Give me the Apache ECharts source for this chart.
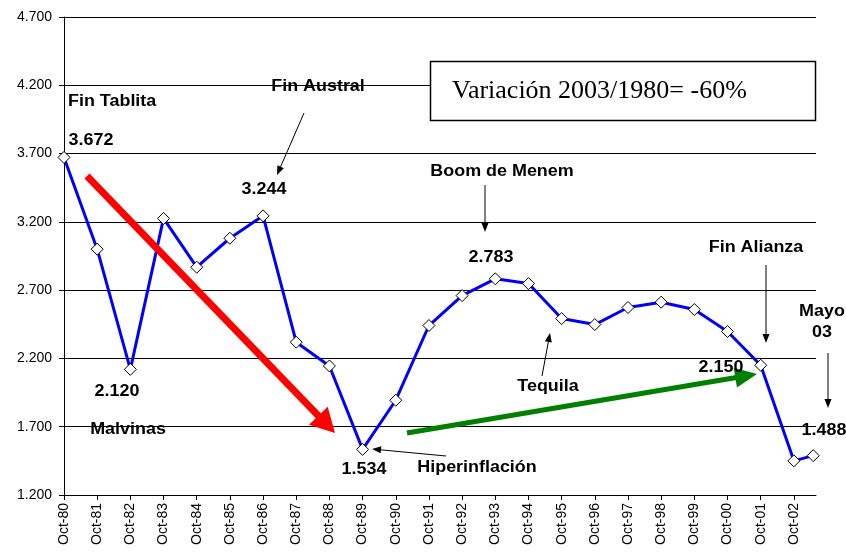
<!DOCTYPE html>
<html>
<head>
<meta charset="utf-8">
<script src="https://cdn.jsdelivr.net/npm/echarts@6/dist/echarts.min.js"></script>
<style>
  html, body { margin: 0; padding: 0; background: #fff; }
  #chart { width: 846px; height: 552px; }
</style>
</head>
<body>
<div id="chart"></div>
<script>
// periodos (año-mes) y valores
const periods = ['1980-10', '1981-10', '1982-10', '1983-10', '1984-10', '1985-10', '1986-10', '1987-10',
  '1988-10', '1989-10', '1990-10', '1991-10', '1992-10', '1993-10', '1994-10', '1995-10', '1996-10',
  '1997-10', '1998-10', '1999-10', '2000-10', '2001-10', '2002-10', '2003-05'];
const values = [3672, 3000, 2120, 3225, 2868, 3080, 3244, 2319, 2145, 1534, 1894, 2441, 2660, 2783,
  2748, 2492, 2448, 2573, 2612, 2558, 2397, 2150, 1450, 1488];
const tickLabels = ['Oct-80', 'Oct-81', 'Oct-82', 'Oct-83', 'Oct-84', 'Oct-85', 'Oct-86', 'Oct-87',
  'Oct-88', 'Oct-89', 'Oct-90', 'Oct-91', 'Oct-92', 'Oct-93', 'Oct-94', 'Oct-95', 'Oct-96', 'Oct-97',
  'Oct-98', 'Oct-99', 'Oct-00', 'Oct-01', 'Oct-02'];

// meses desde oct-80
function toMonth(p) {
  const [y, m] = p.split('-').map(Number);
  return (y - 1980) * 12 + (m - 10);
}
const tickValues = tickLabels.map((_, i) => i * 12);
const seriesData = periods.map((p, i) => [toMonth(p), values[i]]);

const BOLD = { fontFamily: 'Arial, "Liberation Sans", sans-serif', fontWeight: 'bold', fontSize: 16, fill: '#000' };

function label(text, x, y, align) {
  return { type: 'text', x: x, y: y, z: 50, scaleX: 1.12,
    style: Object.assign({ text: text, align: align || 'center', verticalAlign: 'middle' }, BOLD) };
}

function arrow(x1, y1, x2, y2, color, width, headLen, headW) {
  const dx = x2 - x1, dy = y2 - y1;
  const len = Math.sqrt(dx * dx + dy * dy);
  const ux = dx / len, uy = dy / len;
  const bx = x2 - ux * headLen, by = y2 - uy * headLen;
  const px = -uy * headW / 2, py = ux * headW / 2;
  return [
    { type: 'line', z: 40, shape: { x1: x1, y1: y1, x2: bx + ux, y2: by + uy },
      style: { stroke: color, lineWidth: width } },
    { type: 'polygon', z: 40, shape: { points: [[x2, y2], [bx + px, by + py], [bx - px, by - py]] },
      style: { fill: color } }
  ];
}

const chart = echarts.init(document.getElementById('chart'));

chart.setOption({
  animation: false,
  backgroundColor: '#fff',
  grid: { left: 64, right: 30, top: 17, bottom: 57 },
  xAxis: {
    type: 'value',
    min: 0,
    max: 272,
    interval: 12,
    splitLine: { show: false },
    axisLine: { show: true, lineStyle: { color: '#000', width: 1 } },
    axisTick: { show: true, length: 5, customValues: tickValues, lineStyle: { color: '#000' } },
    axisLabel: {
      customValues: tickValues,
      rotate: 90,
      margin: 8,
      color: '#000',
      fontSize: 14,
      fontFamily: 'Arial, "Liberation Sans", sans-serif',
      formatter: v => tickLabels[Math.round(v / 12)] || ''
    }
  },
  yAxis: {
    type: 'value',
    min: 1200,
    max: 4700,
    interval: 500,
    axisLine: { show: true, lineStyle: { color: '#000', width: 1 } },
    axisTick: { show: true, length: 5, lineStyle: { color: '#000' } },
    splitLine: { show: true, lineStyle: { color: '#000', width: 1 } },
    axisLabel: {
      margin: 12,
      color: '#000',
      fontSize: 14,
      fontFamily: 'Arial, "Liberation Sans", sans-serif',
      formatter: v => (v / 1000).toFixed(3)
    }
  },
  series: [{
    type: 'line',
    data: seriesData,
    symbol: 'diamond',
    symbolSize: 12,
    showAllSymbol: true,
    lineStyle: { color: '#0000ff', width: 3 },
    itemStyle: { color: '#fff', borderColor: '#000', borderWidth: 1 },
    z: 10
  }],
  graphic: [
    // cuadro de texto
    { type: 'rect', z: 30, shape: { x: 430.5, y: 61.5, width: 385, height: 59 },
      style: { fill: '#fff', stroke: '#000', lineWidth: 1.5 } },
    { type: 'text', z: 31, x: 452, y: 91,
      style: { text: 'Variación 2003/1980= -60%', fontFamily: '"Times New Roman", "Liberation Serif", serif',
        fontSize: 26, fill: '#000', verticalAlign: 'middle' } },

    label('Fin Tablita', 68, 102, 'left'),
    label('3.672', 91, 141),
    label('Fin Austral', 318, 87),
    label('3.244', 264, 190),
    label('Boom de Menem', 502, 172),
    label('2.783', 491, 258),
    label('Fin Alianza', 756, 248),
    label('Mayo', 822, 312),
    label('03', 822, 333),
    label('1.488', 824, 431),
    label('2.150', 721, 368),
    label('2.120', 117, 392),
    label('Malvinas', 128, 430),
    label('1.534', 364, 470),
    label('Hiperinflación', 477, 468),
    label('Tequila', 548, 387),

    ...arrow(304, 113, 277, 175, '#000', 1, 9, 7),
    ...arrow(485, 185, 485, 232, '#000', 1, 9, 7),
    ...arrow(766, 265, 766, 343, '#000', 1, 9, 7),
    ...arrow(828, 353, 828, 408, '#000', 1, 9, 7),
    ...arrow(446, 456, 372, 449, '#000', 1, 9, 7),
    ...arrow(542, 376, 550, 333, '#000', 1, 9, 7),
    ...arrow(87, 176, 335, 433, '#ff0000', 7, 24, 26),
    ...arrow(407, 433, 757, 374, '#008000', 5, 22, 20)
  ]
});
</script>
</body>
</html>
